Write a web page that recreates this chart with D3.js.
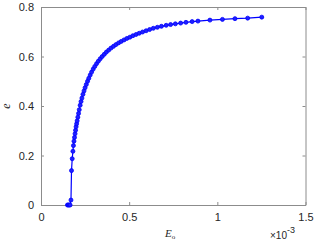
<!DOCTYPE html>
<html>
<head>
<meta charset="utf-8">
<script src="https://cdn.jsdelivr.net/npm/d3@7"></script>
<style>
  body { margin: 0; background: #fff; }
  svg { display: block; font-family: "Liberation Sans", Arial, sans-serif; }
</style>
</head>
<body>
<div id="main"></div>
<script>
// E_o values in units of 1e-3
const eo = [0.150, 0.155, 0.160, 0.165, 0.170, 0.173, 0.177, 0.181,
  0.184, 0.187, 0.190, 0.193, 0.196, 0.199, 0.202, 0.205, 0.209, 0.213,
  0.217, 0.222, 0.227, 0.232, 0.238, 0.244, 0.250, 0.257, 0.264, 0.271,
  0.279, 0.287, 0.296, 0.305, 0.315, 0.325, 0.336, 0.347, 0.359, 0.371,
  0.384, 0.397, 0.411, 0.425, 0.440, 0.455, 0.471, 0.487, 0.504, 0.521,
  0.539, 0.557, 0.576, 0.596, 0.616, 0.637, 0.660, 0.683, 0.710, 0.735,
  0.762, 0.792, 0.822, 0.857, 0.890, 0.958, 1.029, 1.100, 1.172, 1.252];
const ecc = [0, 0, 0, 0, 0.020, 0.139, 0.187, 0.217,
  0.240, 0.258, 0.273, 0.288, 0.302, 0.316, 0.328, 0.340, 0.355, 0.370,
  0.385, 0.403, 0.418, 0.432, 0.447, 0.461, 0.474, 0.487, 0.500, 0.512,
  0.525, 0.537, 0.549, 0.560, 0.571, 0.581, 0.591, 0.600, 0.609, 0.618,
  0.626, 0.634, 0.641, 0.648, 0.655, 0.661, 0.667, 0.673, 0.678, 0.684,
  0.689, 0.694, 0.699, 0.704, 0.709, 0.714, 0.718, 0.722, 0.726, 0.729,
  0.732, 0.735, 0.738, 0.741, 0.743, 0.747, 0.750, 0.753, 0.755, 0.759];
const xTicks = [0, 0.5, 1, 1.5];
const yTicks = [0, 0.2, 0.4, 0.6, 0.8];

const width = 316, height = 244;
const margin = {top: 7, right: 10.5, bottom: 39, left: 41};

const data = eo.map((d, i) => ({x: d, y: ecc[i]}));

const x = d3.scaleLinear().domain([0, 1.5])
  .range([margin.left, width - margin.right]);
const y = d3.scaleLinear().domain([0, 0.8])
  .range([height - margin.bottom, margin.top]);

const svg = d3.select("#main").append("svg")
  .attr("width", width).attr("height", height);

const axisColor = "#8c8c8c";
const fmt = d => String(d);

function styleAxis(g, hideText) {
  g.select(".domain").attr("stroke", axisColor);
  g.selectAll(".tick line").attr("stroke", axisColor);
  g.selectAll(".tick text").attr("fill", "#262626").attr("font-size", 11);
  if (hideText) g.selectAll(".tick text").remove();
}

// bottom
svg.append("g")
  .attr("transform", `translate(0,${y(0)})`)
  .call(d3.axisBottom(x).tickValues(xTicks).tickFormat(fmt).tickSizeInner(-3).tickSizeOuter(0).tickPadding(8))
  .call(g => styleAxis(g, false));
// top
svg.append("g")
  .attr("transform", `translate(0,${y(0.8)})`)
  .call(d3.axisTop(x).tickValues(xTicks).tickSizeInner(-3).tickSizeOuter(0))
  .call(g => styleAxis(g, true));
// left
svg.append("g")
  .attr("transform", `translate(${x(0)},0)`)
  .call(d3.axisLeft(y).tickValues(yTicks).tickFormat(fmt).tickSizeInner(-3).tickSizeOuter(0).tickPadding(7))
  .call(g => styleAxis(g, false));
// right
svg.append("g")
  .attr("transform", `translate(${x(1.5)},0)`)
  .call(d3.axisRight(y).tickValues(yTicks).tickSizeInner(-3).tickSizeOuter(0))
  .call(g => styleAxis(g, true));

// curve
svg.append("path")
  .datum(data)
  .attr("fill", "none")
  .attr("stroke", "#0000ff")
  .attr("stroke-width", 1.2)
  .attr("d", d3.line().x(d => x(d.x)).y(d => y(d.y)));

svg.append("g")
  .selectAll("circle")
  .data(data)
  .join("circle")
  .attr("cx", d => x(d.x))
  .attr("cy", d => y(d.y))
  .attr("r", 2)
  .attr("fill", "#2020ff")
  .attr("stroke", "#0000ff")
  .attr("stroke-width", 0.8);

// labels
svg.append("text")
  .attr("transform", `translate(10,${(y(0) + y(0.8)) / 2}) rotate(-90)`)
  .attr("text-anchor", "middle")
  .attr("font-family", "'Liberation Serif', serif")
  .attr("font-style", "italic")
  .attr("font-size", 12)
  .attr("fill", "#262626")
  .text("e");

const xl = svg.append("text")
  .attr("x", 165).attr("y", 237)
  .attr("font-family", "'Liberation Serif', serif")
  .attr("font-size", 11)
  .attr("fill", "#262626");
xl.append("tspan").attr("font-style", "italic").text("E");
xl.append("tspan").attr("font-size", 7).attr("dy", 1.5).text("o");

const mult = svg.append("text")
  .attr("x", 270).attr("y", 238.5)
  .attr("font-size", 10)
  .attr("fill", "#262626");
mult.append("tspan").text("\u00d710");
mult.append("tspan").attr("font-size", 9).attr("dy", -6).text("-3");
</script>
</body>
</html>
